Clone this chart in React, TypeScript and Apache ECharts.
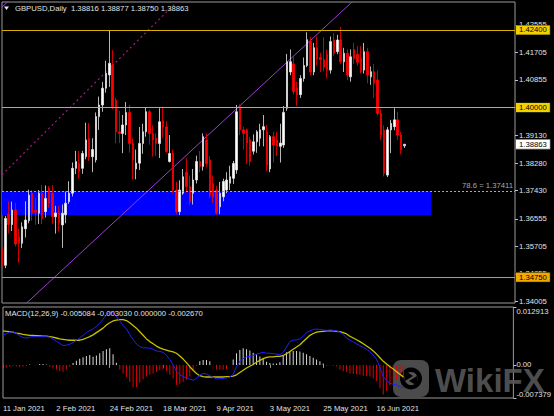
import React, { useEffect, useRef } from 'react';
import * as echarts from 'echarts';

const FONT = "'Liberation Sans', Arial, sans-serif";
const FS = 7.7;

// ---- categories (trading days) ----
const MONTHS: [string, number[]][] = [
  ['Jan', [11, 12, 13, 14, 15, 18, 19, 20, 21, 22, 25, 26, 27, 28, 29]],
  ['Feb', [1, 2, 3, 4, 5, 8, 9, 10, 11, 12, 15, 16, 17, 18, 19, 22, 23, 24, 25, 26]],
  ['Mar', [1, 2, 3, 4, 5, 8, 9, 10, 11, 12, 15, 16, 17, 18, 19, 22, 23, 24, 25, 26, 29, 30, 31]],
  ['Apr', [1, 2, 5, 6, 7, 8, 9, 12, 13, 14, 15, 16, 19, 20, 21, 22, 23, 26, 27, 28, 29, 30]],
  ['May', [3, 4, 5, 6, 7, 10, 11, 12, 13, 14, 17, 18, 19, 20, 21, 24, 25, 26, 27, 28, 31]],
  ['Jun', [1, 2, 3, 4, 7, 8, 9, 10, 11, 14, 15, 16, 17, 18, 21, 22, 23, 24, 25, 28]],
];
const DATES: string[] = MONTHS.flatMap(([m, days]) => days.map((d) => `${d} ${m} 2021`));
const FUTURE_SLOTS = 33;
const CATEGORIES: string[] = [...DATES, ...Array.from({ length: FUTURE_SLOTS }, (_, k) => `+${k + 1}`)];
const DATE_LABEL_EVERY = 16;

// ---- OHLC ----
const OPEN = [
  1.3564, 1.3512, 1.3670, 1.3638, 1.3683, 1.3600, 1.3580, 1.3625, 1.3650, 1.3735,
  1.3682, 1.3673, 1.3735, 1.3678, 1.3750, 1.3735, 1.3662, 1.3676, 1.3637, 1.3668,
  1.3709, 1.3735, 1.3812, 1.3827, 1.3812, 1.3848, 1.3905, 1.3848, 1.3838, 1.3972,
  1.4008, 1.4060, 1.4101, 1.4132, 1.4023, 1.3925, 1.3920, 1.3946, 1.3985, 1.3889,
  1.3810, 1.3828, 1.3889, 1.3925, 1.3987, 1.3920, 1.3905, 1.3889, 1.3960, 1.3940,
  1.3833, 1.3858, 1.3745, 1.3678, 1.3735, 1.3800, 1.3755, 1.3735, 1.3776, 1.3833,
  1.3818, 1.3900, 1.3838, 1.3765, 1.3745, 1.3693, 1.3724, 1.3745, 1.3766, 1.3781,
  1.3807, 1.4003, 1.3931, 1.3931, 1.3900, 1.3865, 1.3894, 1.3905, 1.3931, 1.3925,
  1.3810, 1.3910, 1.3900, 1.3880, 1.3884, 1.3998, 1.4110, 1.4135, 1.4060, 1.4040,
  1.4090, 1.4130, 1.4205, 1.4110, 1.4185, 1.4155, 1.4148, 1.4165, 1.4116, 1.4209,
  1.4173, 1.4209, 1.4142, 1.4168, 1.4095, 1.4180, 1.4165, 1.4152, 1.4116, 1.4173,
  1.4095, 1.4111, 1.4085, 1.3982, 1.3930, 1.3791, 1.3931, 1.3941, 1.3962, 1.3915,
  1.38816,
];
const HIGH = [
  1.3577, 1.3665, 1.3710, 1.3709, 1.3705, 1.3625, 1.3645, 1.3710, 1.3746, 1.3744,
  1.3720, 1.3745, 1.3760, 1.3759, 1.3757, 1.3760, 1.3696, 1.3695, 1.3700, 1.3740,
  1.3772, 1.3830, 1.3866, 1.3866, 1.3866, 1.3953, 1.3952, 1.3905, 1.3985, 1.4034,
  1.4079, 1.4145, 1.4240, 1.4178, 1.4030, 1.3990, 1.3977, 1.4017, 1.4008, 1.3905,
  1.3870, 1.3940, 1.3950, 1.4000, 1.3993, 1.3945, 1.3920, 1.3998, 1.4002, 1.3958,
  1.3915, 1.3870, 1.3770, 1.3775, 1.3810, 1.3843, 1.3790, 1.3810, 1.3851, 1.3866,
  1.3920, 1.3920, 1.3850, 1.3790, 1.3758, 1.3770, 1.3780, 1.3800, 1.3820, 1.3835,
  1.4008, 1.4010, 1.3940, 1.3935, 1.3910, 1.3917, 1.3930, 1.3950, 1.3977, 1.3945,
  1.3915, 1.3925, 1.3925, 1.3950, 1.4005, 1.4166, 1.4180, 1.4160, 1.4080, 1.4100,
  1.4155, 1.4233, 1.4218, 1.4200, 1.4220, 1.4170, 1.4218, 1.4180, 1.4220, 1.4230,
  1.4225, 1.4250, 1.4185, 1.4180, 1.4180, 1.4200, 1.4190, 1.4190, 1.4200, 1.4185,
  1.4127, 1.4135, 1.4115, 1.3995, 1.3945, 1.3940, 1.3962, 1.3998, 1.3987, 1.3925,
  1.38877,
];
const LOW = [
  1.3451, 1.3503, 1.3610, 1.3618, 1.3570, 1.3520, 1.3565, 1.3598, 1.3642, 1.3650,
  1.3637, 1.3640, 1.3640, 1.3660, 1.3690, 1.3640, 1.3610, 1.3616, 1.3566, 1.3642,
  1.3702, 1.3725, 1.3794, 1.3780, 1.3795, 1.3840, 1.3835, 1.3800, 1.3830, 1.3931,
  1.3987, 1.4046, 1.4064, 1.3995, 1.3889, 1.3890, 1.3859, 1.3915, 1.3860, 1.3777,
  1.3778, 1.3807, 1.3857, 1.3910, 1.3885, 1.3848, 1.3850, 1.3844, 1.3906, 1.3860,
  1.3830, 1.3735, 1.3670, 1.3667, 1.3730, 1.3737, 1.3700, 1.3700, 1.3765, 1.3800,
  1.3805, 1.3815, 1.3720, 1.3705, 1.3669, 1.3670, 1.3710, 1.3735, 1.3745, 1.3764,
  1.3795, 1.3915, 1.3870, 1.3825, 1.3820, 1.3855, 1.3860, 1.3880, 1.3880, 1.3803,
  1.3800, 1.3830, 1.3850, 1.3830, 1.3875, 1.3990, 1.4100, 1.4040, 1.4005, 1.4030,
  1.4080, 1.4125, 1.4100, 1.4100, 1.4130, 1.4110, 1.4112, 1.4090, 1.4105, 1.4160,
  1.4165, 1.4135, 1.4110, 1.4085, 1.4080, 1.4135, 1.4130, 1.4105, 1.4105, 1.4075,
  1.4070, 1.4030, 1.3975, 1.3900, 1.3787, 1.3785, 1.3859, 1.3930, 1.3900, 1.3855,
  1.38750,
];
const CLOSE = [
  1.3510, 1.3657, 1.3638, 1.3683, 1.3578, 1.3580, 1.3631, 1.3652, 1.3729, 1.3673,
  1.3676, 1.3735, 1.3657, 1.3719, 1.3704, 1.3662, 1.3674, 1.3642, 1.3673, 1.3704,
  1.3735, 1.3812, 1.3833, 1.3802, 1.3858, 1.3900, 1.3848, 1.3870, 1.3972, 1.4008,
  1.4060, 1.4106, 1.4137, 1.4003, 1.3925, 1.3920, 1.3946, 1.3985, 1.3889, 1.3838,
  1.3828, 1.3889, 1.3925, 1.3987, 1.3920, 1.3900, 1.3889, 1.3956, 1.3940, 1.3864,
  1.3858, 1.3745, 1.3678, 1.3745, 1.3786, 1.3755, 1.3709, 1.3776, 1.3833, 1.3818,
  1.3910, 1.3827, 1.3729, 1.3724, 1.3673, 1.3735, 1.3771, 1.3776, 1.3786, 1.3827,
  1.3987, 1.3931, 1.3920, 1.3890, 1.3833, 1.3894, 1.3925, 1.3931, 1.3941, 1.3822,
  1.3910, 1.3884, 1.3880, 1.3890, 1.3985, 1.4142, 1.4142, 1.4049, 1.4040, 1.4090,
  1.4130, 1.4210, 1.4110, 1.4185, 1.4150, 1.4148, 1.4125, 1.4116, 1.4204, 1.4168,
  1.4209, 1.4142, 1.4168, 1.4101, 1.4157, 1.4152, 1.4140, 1.4111, 1.4173, 1.4101,
  1.4111, 1.4075, 1.3982, 1.3915, 1.3797, 1.3931, 1.3951, 1.3962, 1.3915, 1.3869,
  1.38863,
];

// ---- MACD(12,26,9) pane ----
const MACD_LINE = [
  0.0066, 0.0070, 0.0073, 0.0074, 0.0070, 0.0065, 0.0061, 0.0060, 0.0062, 0.0063,
  0.0063, 0.0064, 0.0063, 0.0063, 0.0062, 0.0058, 0.0053, 0.0048, 0.0043, 0.0044,
  0.0046, 0.0050, 0.0055, 0.0060, 0.0066, 0.0072, 0.0077, 0.0080, 0.0086, 0.0093,
  0.0102, 0.0112, 0.0118, 0.0117, 0.0108, 0.0098, 0.0088, 0.0080, 0.0068, 0.0056,
  0.0047, 0.0041, 0.0038, 0.0038, 0.0037, 0.0035, 0.0031, 0.0030, 0.0028, 0.0021,
  0.0012, 0.0000, -0.0014, -0.0022, -0.0026, -0.0029, -0.0032, -0.0034, -0.0030, -0.0023,
  -0.0019, -0.0020, -0.0024, -0.0028, -0.0031, -0.0031, -0.0030, -0.0029, -0.0027, -0.0021,
  -0.0004, 0.0008, 0.0014, 0.0018, 0.0019, 0.0021, 0.0024, 0.0026, 0.0028, 0.0026,
  0.0026, 0.0025, 0.0024, 0.0023, 0.0028, 0.0040, 0.0052, 0.0055, 0.0056, 0.0058,
  0.0064, 0.0072, 0.0076, 0.0079, 0.0080, 0.0079, 0.0078, 0.0077, 0.0078, 0.0077,
  0.0076, 0.0073, 0.0068, 0.0060, 0.0055, 0.0051, 0.0047, 0.0043, 0.0039, 0.0035,
  0.0029, 0.0022, 0.0012, -0.0006, -0.0026, -0.0035, -0.0041, -0.0043, -0.0045, -0.0049,
  -0.005084,
];
const SIGNAL_LINE = [
  0.0076, 0.0075, 0.0074, 0.0073, 0.0071, 0.0070, 0.0068, 0.0067, 0.0066, 0.0066,
  0.0065, 0.0065, 0.0064, 0.0064, 0.0063, 0.0062, 0.0060, 0.0058, 0.0057, 0.0056,
  0.0055, 0.0055, 0.0055, 0.0055, 0.0057, 0.0060, 0.0063, 0.0067, 0.0072, 0.0077,
  0.0082, 0.0089, 0.0094, 0.0098, 0.0100, 0.0101, 0.0101, 0.0099, 0.0094, 0.0088,
  0.0082, 0.0074, 0.0066, 0.0058, 0.0052, 0.0047, 0.0042, 0.0038, 0.0035, 0.0033,
  0.0031, 0.0029, 0.0026, 0.0020, 0.0013, 0.0005, -0.0004, -0.0012, -0.0019, -0.0024,
  -0.0026, -0.0027, -0.0027, -0.0027, -0.0027, -0.0027, -0.0027, -0.0026, -0.0026, -0.0025,
  -0.0022, -0.0017, -0.0012, -0.0007, -0.0003, 0.0001, 0.0006, 0.0010, 0.0014, 0.0017,
  0.0018, 0.0018, 0.0019, 0.0019, 0.0021, 0.0025, 0.0030, 0.0035, 0.0040, 0.0045,
  0.0052, 0.0059, 0.0066, 0.0070, 0.0073, 0.0074, 0.0075, 0.0076, 0.0076, 0.0076,
  0.0075, 0.0074, 0.0072, 0.0069, 0.0064, 0.0060, 0.0056, 0.0052, 0.0047, 0.0042,
  0.0037, 0.0031, 0.0024, 0.0016, 0.0008, 0.0002, -0.0004, -0.0009, -0.0015, -0.0021,
  -0.002670,
];
const HISTOGRAM = [
  -0.0007, -0.0006, -0.0004, -0.0002, -0.0003, -0.0005, -0.0004, -0.0002, 0.0001, 0.0000,
  -0.0001, 0.0002, 0.0002, 0.0001, -0.0004, -0.0008, -0.0011, -0.0014, -0.0015, -0.0010,
  -0.0004, 0.0004, 0.0009, 0.0014, 0.0017, 0.0020, 0.0022, 0.0018, 0.0021, 0.0026,
  0.0031, 0.0035, 0.0037, 0.0024, 0.0005, -0.0010, -0.0019, -0.0027, -0.0038, -0.0050,
  -0.0050, -0.0040, -0.0032, -0.0026, -0.0022, -0.0019, -0.0016, -0.0012, -0.0010, -0.0014,
  -0.0022, -0.0030, -0.0045, -0.0042, -0.0038, -0.0033, -0.0026, -0.0013, -0.0002, 0.0008,
  0.0011, 0.0011, 0.0008, 0.0000, -0.0010, -0.0011, -0.0011, -0.0009, 0.0000, 0.0012,
  0.0026, 0.0033, 0.0037, 0.0035, 0.0032, 0.0027, 0.0023, 0.0019, 0.0013, 0.0007,
  0.0004, 0.0003, 0.0003, 0.0006, 0.0022, 0.0028, 0.0030, 0.0031, 0.0031, 0.0030,
  0.0027, 0.0024, 0.0020, 0.0016, 0.0012, 0.0008, 0.0003, -0.0002, -0.0001, -0.0002,
  -0.0003, -0.0011, -0.0014, -0.0016, -0.0019, -0.0020, -0.0021, -0.0022, -0.0024, -0.0025,
  -0.0026, -0.0030, -0.0036, -0.0052, -0.0066, -0.0058, -0.0046, -0.0040, -0.0033, -0.0026,
  -0.003030,
];

// ---- axes ----
const PRICE_MIN = 1.33953;
const PRICE_MAX = 1.43266;
const PRICE_TICKS = [1.42555, 1.41705, 1.40855, 1.40005, 1.3913, 1.3828, 1.3743, 1.36555, 1.35705, 1.34855, 1.34005];
const MACD_MAX = 0.012913;
const MACD_MIN = -0.007379;
const MACD_TICKS = [MACD_MAX, 0, MACD_MIN];

// ---- objects drawn on the chart ----
const YELLOW_LEVELS = [1.424, 1.4];
const ORANGE_LEVEL = 1.3475;
const FIB_LEVEL = 1.37411;
const FIB_RATIO = '78.6';
const LAST_PRICE = 1.38863;
const ZONE_TOP = 1.37411;
const ZONE_BOTTOM = 1.36676;
const ZONE_END_INDEX = 128;
const TREND_SOLID: [number, number][] = [[7, 1.3392], [106, 1.4342]];
const TREND_DASHED: [number, number][] = [[0, 1.3792], [54, 1.4346]];
const TREND_TOPLEFT: [number, number][] = [[0, 1.4311], [3, 1.434]];

const TITLE = 'GBPUSD,Daily  1.38816 1.38877 1.38750 1.38863';
const MACD_TITLE = 'MACD(12,26,9) -0.005084 -0.003030 0.000000 -0.002670';

const GRID_BORDER = '#9a9a9a';
const TEXT = '#e2e2e2';
const YEL = '#d8b000';
const YEL_BG = '#f5d000';
const ORA = '#e39a00';
const ORA_BG = '#f5a800';

const dateInterval = (index: number) => index % DATE_LABEL_EVERY === 0 && index <= 112;

function levelLabel(value: number, bg: string, border = '#3a3a00') {
  return {
    show: true,
    position: 'end',
    distance: 1,
    formatter: value.toFixed(5),
    color: '#000',
    backgroundColor: bg,
    borderColor: border,
    borderWidth: 0.6,
    padding: [1, 3, 0, 3],
    fontSize: FS,
    fontFamily: FONT,
    opacity: 1,
  };
}

function buildOption(): any {
  const trend = (pts: [number, number][]) => pts.map(([i, p]) => [CATEGORIES[i], p]);
  return {
    animation: false,
    backgroundColor: '#000',
    grid: [
      { left: 2, right: 39, top: 2, height: 301, show: true, borderColor: GRID_BORDER, borderWidth: 1, backgroundColor: 'transparent' },
      { left: 2, right: 39, top: 307, height: 91, show: true, borderColor: GRID_BORDER, borderWidth: 1, backgroundColor: 'transparent' },
    ],
    xAxis: [
      {
        type: 'category', gridIndex: 0, data: CATEGORIES, boundaryGap: false,
        axisLine: { show: false }, axisTick: { show: false }, axisLabel: { show: false }, splitLine: { show: false },
      },
      {
        type: 'category', gridIndex: 1, data: CATEGORIES, boundaryGap: false,
        axisLine: { show: false },
        axisTick: { show: true, interval: dateInterval, length: 3, lineStyle: { color: GRID_BORDER } },
        axisLabel: { interval: dateInterval, align: 'left', color: TEXT, fontSize: FS, fontFamily: FONT, margin: 6 },
        splitLine: { show: false },
      },
    ],
    yAxis: [
      {
        type: 'value', gridIndex: 0, position: 'right', min: PRICE_MIN, max: PRICE_MAX,
        splitLine: { show: false }, axisLine: { show: false },
        axisTick: { show: true, customValues: PRICE_TICKS, length: 3, lineStyle: { color: '#c0c0c0' } },
        axisLabel: { customValues: PRICE_TICKS, formatter: (v: number) => v.toFixed(5), color: TEXT, fontSize: FS, fontFamily: FONT, margin: 4 },
      },
      {
        type: 'value', gridIndex: 1, position: 'right', min: MACD_MIN, max: MACD_MAX,
        splitLine: { show: false }, axisLine: { show: false },
        axisTick: { show: true, customValues: MACD_TICKS, length: 3, lineStyle: { color: '#c0c0c0' } },
        axisLabel: {
          customValues: MACD_TICKS,
          formatter: (v: number) => (v === 0 ? '0.00' : v.toFixed(6)),
          color: TEXT, fontSize: FS, fontFamily: FONT, margin: 3,
          verticalAlignMaxLabel: 'bottom', verticalAlignMinLabel: 'top',
        },
      },
    ],
    series: [
      {
        type: 'line', xAxisIndex: 0, yAxisIndex: 0, data: [], z: 1, silent: true,
        markArea: {
          silent: true,
          precision: 6,
          itemStyle: { color: '#0000ff' },
          data: [[{ xAxis: CATEGORIES[0], yAxis: ZONE_TOP }, { xAxis: CATEGORIES[ZONE_END_INDEX], yAxis: ZONE_BOTTOM }]],
        },
      },
      {
        type: 'line', xAxisIndex: 0, yAxisIndex: 0, z: 2, silent: true, symbol: 'none', clip: true,
        data: trend(TREND_SOLID), lineStyle: { color: '#9b3fd0', width: 1 },
      },
      {
        type: 'line', xAxisIndex: 0, yAxisIndex: 0, z: 2, silent: true, symbol: 'none', clip: true,
        data: trend(TREND_TOPLEFT), lineStyle: { color: '#9b3fd0', width: 1 },
      },
      {
        type: 'line', xAxisIndex: 0, yAxisIndex: 0, z: 2, silent: true, symbol: 'none', clip: true,
        data: trend(TREND_DASHED), lineStyle: { color: '#a01c84', width: 1.2, type: [2, 3] },
      },
      {
        type: 'candlestick', xAxisIndex: 0, yAxisIndex: 0, z: 3, barWidth: 2,
        data: OPEN.map((o, i) => [o, CLOSE[i], LOW[i], HIGH[i]]),
        itemStyle: { color: '#ffffff', color0: '#ff0000', borderColor: '#e6e6e6', borderColor0: '#ff0000', borderWidth: 0.8 },
        markLine: {
          silent: true,
          precision: 6,
          symbol: ['none', 'none'],
          animation: false,
          data: [
            ...YELLOW_LEVELS.map((v) => ({ yAxis: v, lineStyle: { color: YEL, width: 1, type: 'solid' }, label: levelLabel(v, YEL_BG) })),
            { yAxis: ORANGE_LEVEL, lineStyle: { color: ORA, width: 1, type: 'solid' }, label: levelLabel(ORANGE_LEVEL, ORA_BG) },
            {
              yAxis: FIB_LEVEL,
              lineStyle: { color: '#a8a8a8', width: 1, type: [2, 2] },
              label: {
                show: true, position: 'insideEndTop', distance: 2,
                formatter: `${FIB_RATIO} = ${FIB_LEVEL.toFixed(5)}`,
                color: '#a8a8a8', fontSize: FS, fontFamily: FONT,
              },
            },
            {
              yAxis: LAST_PRICE,
              lineStyle: { color: 'rgba(0,0,0,0)', width: 0.1, type: 'solid' },
              label: levelLabel(LAST_PRICE, '#ffffff', '#808080'),
            },
          ],
        },
      },
      {
        type: 'bar', xAxisIndex: 1, yAxisIndex: 1, z: 2, barWidth: 1, silent: true,
        data: HISTOGRAM.map((v) => ({ value: v, itemStyle: { color: v >= 0 ? '#d6d6d6' : '#e00000' } })),
      },
      {
        type: 'line', xAxisIndex: 1, yAxisIndex: 1, z: 3, symbol: 'none', silent: true,
        data: SIGNAL_LINE, lineStyle: { color: '#c8c000', width: 1.3 },
      },
      {
        type: 'line', xAxisIndex: 1, yAxisIndex: 1, z: 4, symbol: 'none', silent: true,
        data: MACD_LINE, lineStyle: { color: '#2020ff', width: 1 },
      },
    ],
    graphic: [
      { type: 'polygon', z: 100, shape: { points: [[4, 6.5], [9, 6.5], [6.5, 10]] }, style: { fill: '#e6e6e6' } },
      { type: 'text', z: 100, x: 15, y: 8.5, style: { text: TITLE, fill: TEXT, font: `${FS}px ${FONT}`, verticalAlign: 'middle' } },
      { type: 'text', z: 100, x: 5, y: 313, style: { text: MACD_TITLE, fill: TEXT, font: `${FS}px ${FONT}`, verticalAlign: 'middle' } },
      {
        type: 'group', z: 120,
        children: [
          { type: 'rect', shape: { x: 393, y: 360, width: 36, height: 37, r: 8 }, style: { fill: 'rgba(88,88,88,0.85)' } },
          { type: 'circle', shape: { cx: 411, cy: 378.5, r: 11 }, style: { fill: '#000' } },
          { type: 'circle', shape: { cx: 411, cy: 378.5, r: 6.5 }, style: { fill: 'rgba(88,88,88,0.95)' } },
          { type: 'polygon', shape: { points: [[404, 370], [413, 376], [405, 381]] }, style: { fill: '#000' } },
          { type: 'polygon', shape: { points: [[418, 386], [409, 381], [417, 376]] }, style: { fill: '#000' } },
          {
            type: 'text', x: 435, y: 380,
            style: { text: 'WikiFX', fill: 'rgba(88,88,88,0.9)', font: `bold 33px ${FONT}`, verticalAlign: 'middle' },
          },
        ],
      },
    ],
  };
}

export default function App() {
  const ref = useRef<HTMLDivElement>(null);
  useEffect(() => {
    if (!ref.current) return;
    const chart = echarts.init(ref.current, undefined, { renderer: 'svg' });
    chart.setOption(buildOption());
    return () => chart.dispose();
  }, []);
  return (
    <div style={{ position: 'fixed', left: 0, top: 0, width: 554, height: 416, background: '#000' }}>
      <div ref={ref} style={{ width: 554, height: 416 }} />
    </div>
  );
}
